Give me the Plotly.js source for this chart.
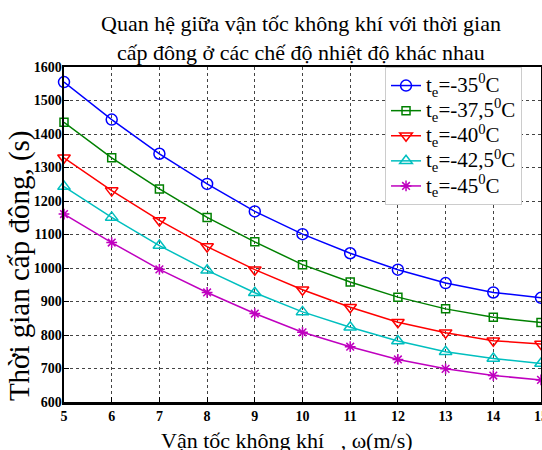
<!DOCTYPE html>
<html>
<head>
<meta charset="utf-8">
<script src="https://cdn.plot.ly/plotly-3.0.1.min.js"></script>
<style>html,body{margin:0;padding:0;background:#fff;}#chart{width:542px;height:450px;}</style>
</head>
<body>
<div id="chart"></div>
<script>
const velocity = [5, 6, 7, 8, 9, 10, 11, 12, 13, 14, 15];
const t35  = [1555, 1443, 1341, 1251, 1169, 1101, 1044, 995, 955, 927, 911];
const t375 = [1435, 1329, 1236, 1151, 1078, 1010, 958, 913, 878, 853, 837];
const t40  = [1329, 1231, 1142, 1064, 995, 935, 883, 838, 807, 783, 773];
const t425 = [1243, 1151, 1067, 993, 926, 869, 823, 782, 750, 730, 715];
const t45  = [1161, 1076, 996, 927, 864, 808, 765, 727, 699, 679, 666];
const seriesLabels = ["-35", "-37,5", "-40", "-42,5", "-45"];
const yTicks = [600, 700, 800, 900, 1000, 1100, 1200, 1300, 1400, 1500, 1600];
const xTicks = [5, 6, 7, 8, 9, 10, 11, 12, 13, 14, 15];

const colors = ["#0000ff", "#008000", "#ff0000", "#00bfbf", "#bf00bf"];
const symbols = ["circle-open", "square-open", "triangle-down-open", "triangle-up-open", "asterisk-open"];
const sizes = [11, 8, 11, 11, 9];
const allY = [t35, t375, t40, t425, t45];

const traces = allY.map((ys, i) => ({
  x: velocity, y: ys,
  name: '<span style="font-size:21px">t<sub>e</sub>=' + seriesLabels[i] + '<sup>0</sup>C</span>',
  type: "scatter", mode: "lines+markers",
  line: {color: colors[i], width: 1.5},
  marker: {symbol: symbols[i], size: sizes[i], color: colors[i], line: {color: colors[i], width: 1.5}},
  cliponaxis: false
}));

const serif = "Liberation Serif, Times New Roman, DejaVu Serif, serif";
const layout = {
  width: 542, height: 450,
  margin: {l: 64, r: 1, t: 67, b: 48},
  paper_bgcolor: "#fff", plot_bgcolor: "#fff",
  xaxis: {range: [5, 15], tickvals: xTicks, ticktext: xTicks.map(String),
          tickfont: {family: serif, size: 14, color: "#000", weight: "bold"},
          ticklabeloverflow: "allow",
          showgrid: true, gridcolor: "#444", griddash: "dot", gridwidth: 1,
          showline: true, linecolor: "#000", linewidth: 2.5, mirror: true,
          ticks: "inside", ticklen: 5, tickcolor: "#000", zeroline: false},
  yaxis: {range: [600, 1600], tickvals: yTicks, ticktext: yTicks.map(String),
          tickfont: {family: serif, size: 14, color: "#000", weight: "bold"},
          ticklabelstandoff: -3,
          showgrid: true, gridcolor: "#444", griddash: "dot", gridwidth: 1,
          showline: true, linecolor: "#000", linewidth: 2.5, mirror: true,
          ticks: "inside", ticklen: 5, tickcolor: "#000", zeroline: false},
  legend: {x: 0.673, xanchor: "left", y: 1, yanchor: "top", bgcolor: "#fff",
           bordercolor: "#ccc", borderwidth: 1, font: {family: serif, size: 17, color: "#000"},
           itemwidth: 30, tracegroupgap: 0},
  showlegend: true,
  annotations: [
    {text: "Quan hệ giữa vận tốc không khí với thời gian<br>cấp đông ở các chế độ nhiệt độ khác nhau",
     xref: "paper", yref: "paper", x: 0.497, y: 1.173, xanchor: "center", yanchor: "top", showarrow: false,
     font: {family: serif, size: 22, color: "#000"}},
    {text: "Vận tốc không khí   , ω(m/s)", xref: "paper", yref: "paper", x: 0.467, y: -0.116,
     xanchor: "center", yanchor: "middle", showarrow: false, font: {family: serif, size: 22, color: "#000"}},
    {text: "Thời gian cấp đông, (s)", xref: "paper", yref: "paper", x: -0.092, y: 0.406,
     xanchor: "center", yanchor: "middle", textangle: -90, showarrow: false, font: {family: serif, size: 29, color: "#000"}}
  ]
};
Plotly.newPlot("chart", traces, layout, {displayModeBar: false, staticPlot: true});
</script>
</body>
</html>
